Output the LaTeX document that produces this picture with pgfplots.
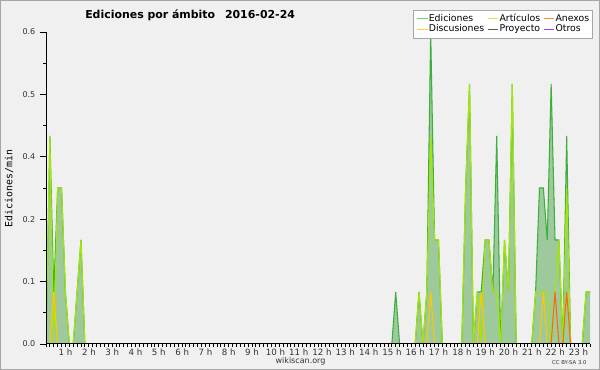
\documentclass[border=0pt]{standalone}
\usepackage{fontspec}
\setmainfont{DejaVu Sans}
\newfontfamily\monofont{DejaVu Sans Mono}
\usepackage{pgfplots}
\pgfplotsset{compat=1.18}
\definecolor{bgc}{HTML}{F0F0F0}
\definecolor{plotbg}{HTML}{EDEEF0}
\definecolor{edc}{HTML}{3CAF3C}
\definecolor{edfill}{HTML}{9DC99D}
\definecolor{artc}{HTML}{A6E600}
\definecolor{disc}{HTML}{FFC800}
\definecolor{anxc}{HTML}{FF6A00}
\definecolor{proc}{HTML}{555555}
\definecolor{otrc}{HTML}{9944EE}
\pgfplotsset{
  layers/gridmain/.define layer set={axis background,axis grid,main,axis ticks,axis lines,axis tick labels,axis descriptions,axis foreground}{
    grid style={/pgfplots/on layer=axis grid},
    tick style={/pgfplots/on layer=axis ticks},
    axis line style={/pgfplots/on layer=axis lines},
    label style={/pgfplots/on layer=axis descriptions},
    legend style={/pgfplots/on layer=axis descriptions},
    title style={/pgfplots/on layer=axis descriptions},
    ticklabel style={/pgfplots/on layer=axis tick labels},
    axis background@ style={/pgfplots/on layer=axis background},
  },
}
\begin{document}
\begin{tikzpicture}
\fill[bgc] (0pt,0pt) rectangle (450pt,277.5pt);
\draw[gray!70, line width=1pt] (0.5pt,0.5pt) rectangle (449.5pt,277pt);
\begin{axis}[
  set layers=gridmain,
  at={(34.5pt,19.5pt)}, anchor=south west,
  scale only axis, width=408pt, height=234pt,
  xmin=0, xmax=140, ymin=0, ymax=0.6,
  axis x line*=bottom, axis y line*=left,
  axis line style={black, line width=0.75pt},
  tick align=outside,
  xtick={6,12,...,138},
  xticklabels={1 h,2 h,3 h,4 h,5 h,6 h,7 h,8 h,9 h,10 h,11 h,12 h,13 h,14 h,15 h,16 h,17 h,18 h,19 h,20 h,21 h,22 h,23 h},
  every major x tick/.append style={draw opacity=0},
  minor xtick={0,1,...,140},
  ytick={0,0.12,0.24,0.36,0.48,0.6},
  yticklabels={0.0,0.1,0.2,0.4,0.5,0.6},
  minor ytick={0.06,0.18,0.30,0.42,0.54},
  major tick length=4.5pt, minor tick length=2.3pt,
  tick style={black, line width=0.6pt},
  ymajorgrids, major grid style={gray!35, line width=0.6pt},
  axis background/.style={fill=plotbg},
  unbounded coords=jump,
  xticklabel style={font=\fontsize{6.5}{7}\selectfont, xshift=-2.8pt, yshift=4.6pt, text=black!80},
  yticklabel style={font=\fontsize{6}{7}\selectfont, text=black!80},
  legend columns=3,
  legend cell align=left,
  legend image code/.code={\draw[#1] (0pt,0pt) -- (8pt,0pt);},
  legend style={at={(1.0055,1.0705)}, anchor=north east, font=\fontsize{7}{7}\selectfont,
    draw=gray!70, fill=white,
    nodes={inner sep=0.6pt, text height=5.2pt, text depth=1.6pt},
    /tikz/every even column/.append style={column sep=1.5pt},
    inner xsep=2pt, inner ysep=2.5pt},
]
% Ediciones (total) filled area
\addplot[fill=edfill, draw=none, forget plot] coordinates {
(0,0) (1,0.4) (2,0.1) (3,0.3) (4,0.3) (5,0.1) (6,0) (7,0) (8,0.1) (9,0.2) (10,0)
(89,0) (90,0.1) (91,0)
(95,0) (96,0.1) (97,0) (98,0.1) (99,0.6) (100,0.2) (101,0.2) (102,0)
(107,0) (108,0.3) (109,0.5) (110,0) (111,0.1) (112,0.1) (113,0.2) (114,0.2) (115,0.1) (116,0.4) (117,0) (118,0.2) (119,0.1) (120,0.5) (121,0)
(125,0) (126,0.1) (127,0.3) (128,0.3) (129,0.2) (130,0.5) (131,0.2) (132,0.2) (133,0) (134,0.4) (135,0)
(138,0) (139,0.1) (140,0.1)} \closedcycle;
% Ediciones line
\addplot[edc, line width=0.8pt, forget plot] coordinates {
(0,0) (1,0.4) (2,0.1) (3,0.3) (4,0.3) (5,0.1) (6,0) (6.5,nan) (7,0) (8,0.1) (9,0.2) (10,0) (10.5,nan)
(89,0) (90,0.1) (91,0) (91.5,nan)
(95,0) (96,0.1) (97,0) (98,0.1) (99,0.6) (100,0.2) (101,0.2) (102,0) (102.5,nan)
(107,0) (108,0.3) (109,0.5) (110,0) (111,0.1) (112,0.1) (113,0.2) (114,0.2) (115,0.1) (116,0.4) (117,0) (118,0.2) (119,0.1) (120,0.5) (121,0) (121.5,nan)
(125,0) (126,0.1) (127,0.3) (128,0.3) (129,0.2) (130,0.5) (131,0.2) (132,0.2) (133,0) (134,0.4) (135,0) (135.5,nan)
(138,0) (139,0.1) (140,0.1)};
% Articulos
\addplot[artc, line width=0.8pt, forget plot] coordinates {
(0,0) (1,0.4) (2,0) (3,0.3) (4,0.3) (5,0.1) (6,0) (6.5,nan) (7,0) (8,0.1) (9,0.2) (10,0) (10.5,nan)
(95,0) (96,0.1) (97,0) (98,0.1) (99,0.4) (100,0.2) (101,0.2) (102,0) (102.5,nan)
(107,0) (108,0.3) (109,0.5) (110,0) (111,0.1) (112,0) (113,0.2) (114,0.2) (115,0.1) (116,0.1) (117,0) (118,0.2) (119,0.1) (120,0.5) (121,0) (121.5,nan)
(125,0) (126,0.1) (127,0.1) (128,0.1) (129,0.1) (130,0) (131,0.1) (132,0.2) (133,0) (134,0.3) (135,0) (135.5,nan)
(138,0) (139,0.1) (140,0.1)};
% Discusiones
\addplot[disc, line width=0.8pt, forget plot] coordinates {
(1,0) (2,0.1) (3,0) (3.5,nan)
(98,0) (99,0.1) (100,0) (100.5,nan)
(111,0) (112,0.1) (113,0) (113.5,nan)
(127,0) (128,0.1) (129,0)};
% Anexos
\addplot[anxc, line width=0.8pt, forget plot] coordinates {
(130,0) (131,0.1) (132,0) (132.5,nan)
(133,0) (134,0.1) (135,0)};
\addlegendimage{edc!70, line width=0.8pt}\addlegendentry{Ediciones}
\addlegendimage{artc!70, line width=0.8pt}\addlegendentry{Artículos}
\addlegendimage{anxc!80, line width=0.8pt}\addlegendentry{Anexos}
\addlegendimage{disc!80, line width=0.8pt}\addlegendentry{Discusiones}
\addlegendimage{proc, line width=0.8pt}\addlegendentry{Proyecto}
\addlegendimage{otrc, line width=0.8pt}\addlegendentry{Otros}
\end{axis}
\node[font=\bfseries\fontsize{8.2}{9}\selectfont, anchor=base west, inner sep=0pt] at (63.75pt,263.8pt) {Ediciones por ámbito\hspace{0.9em}2016-02-24};
\node[font=\monofont\fontsize{7.4}{8}\selectfont, rotate=90, inner sep=0pt] at (6.9pt,136pt) {Ediciones/min};
\node[font=\fontsize{6}{7}\selectfont, inner sep=0pt, text=black!80] at (225.4pt,6.75pt) {wikiscan.org};
\node[font=\fontsize{4}{5}\selectfont, inner sep=0pt, text=black!80] at (427pt,5.6pt) {CC BY-SA 3.0};
\end{tikzpicture}
\end{document}
